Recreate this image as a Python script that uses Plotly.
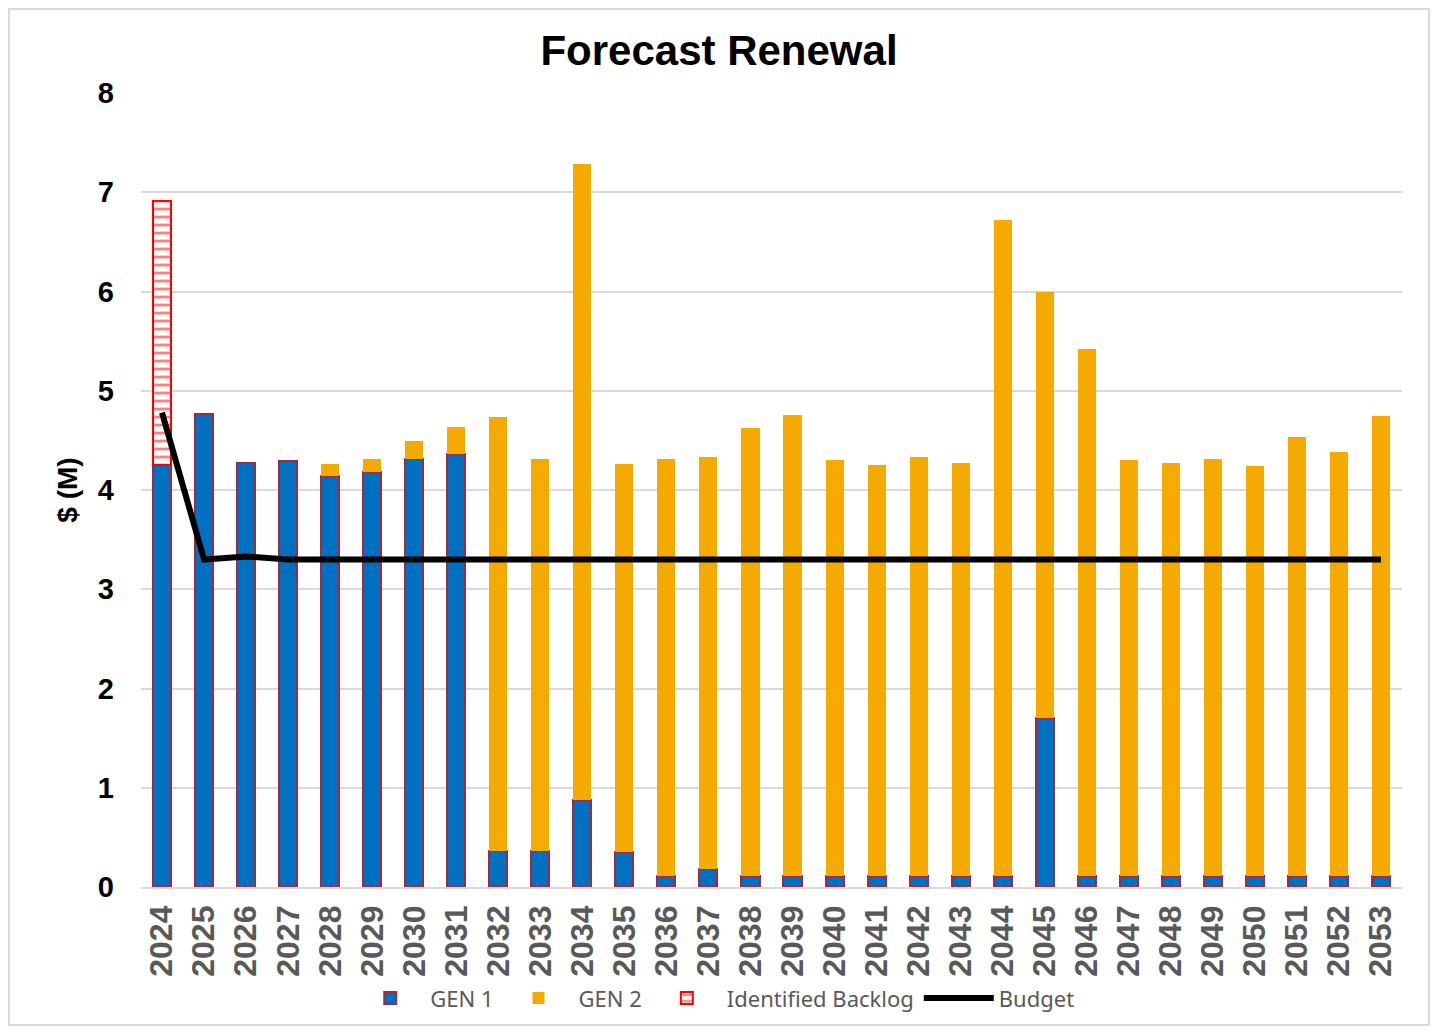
import plotly.graph_objects as go

# Forecast renewal data ($M)
years = [str(y) for y in range(2024, 2054)]

gen1 = [4.25, 4.77, 4.27, 4.29, 4.14, 4.18, 4.31, 4.36, 0.36, 0.36,
        0.88, 0.35, 0.11, 0.18, 0.11, 0.11, 0.11, 0.11, 0.11, 0.11,
        0.11, 1.70, 0.11, 0.11, 0.11, 0.11, 0.11, 0.11, 0.11, 0.11]

gen2 = [None, None, None, None, 0.12, 0.13, 0.18, 0.27, 4.38, 3.95,
        6.40, 3.91, 4.20, 4.15, 4.51, 4.65, 4.19, 4.14, 4.22, 4.16,
        6.61, 4.30, 5.31, 4.19, 4.16, 4.20, 4.13, 4.42, 4.27, 4.64]

backlog = [2.66] + [None] * 29

budget = [4.78, 3.30, 3.33, 3.30, 3.30, 3.30, 3.30, 3.30, 3.30, 3.30,
          3.30, 3.30, 3.30, 3.30, 3.30, 3.30, 3.30, 3.30, 3.30, 3.30,
          3.30, 3.30, 3.30, 3.30, 3.30, 3.30, 3.30, 3.30, 3.30, 3.30]

FONT = 'Liberation Sans, Arial'

fig = go.Figure()

fig.add_trace(go.Bar(
    x=years, y=gen1, name='GEN 1',
    marker=dict(color='#0070C0', line=dict(color='#A5283C', width=2)),
    width=0.43,
))

fig.add_trace(go.Bar(
    x=years, y=gen2, name='GEN 2',
    marker=dict(color='#F4AA00', line=dict(width=0)),
    width=0.43,
))

fig.add_trace(go.Bar(
    x=years, y=backlog, name='Identified Backlog',
    marker=dict(color='white', line=dict(color='#FF0000', width=2),
                pattern=dict(shape='-', fgcolor='#FF0000', bgcolor='white',
                             size=8, solidity=0.35)),
    width=0.43,
))

fig.add_trace(go.Scatter(
    x=years, y=budget, name='Budget', mode='lines',
    line=dict(color='black', width=6),
))

# outer chart border
fig.add_shape(type='rect', xref='paper', yref='paper',
              x0=-0.1047, x1=1.0214, y0=-0.1738, y1=1.1058,
              line=dict(color='#D9D9D9', width=2), layer='below')

fig.update_layout(
    width=1422, height=1018,
    margin=dict(l=133, r=28, t=85, b=139, autoexpand=False),
    barmode='stack',
    plot_bgcolor='white', paper_bgcolor='white',
    title=dict(text='<b>Forecast Renewal</b>', x=0.5, xanchor='center',
               y=0.958, yanchor='middle',
               font=dict(family=FONT, size=42, color='black')),
    yaxis=dict(range=[0, 8], dtick=1, showgrid=True, gridcolor='#D9D9D9', gridwidth=1.5,
               zeroline=False, showline=False, automargin=False,
               tickfont=dict(family=FONT, size=29, color='black'),
               tickprefix='<b>', ticksuffix='</b>', ticklabelstandoff=26,
               title=dict(text='<b>$ (M)</b>', standoff=12,
                          font=dict(family=FONT, size=28, color='black'))),
    xaxis=dict(type='category', tickangle=-90, showgrid=False, automargin=False,
               showline=True, linecolor='#D9D9D9', linewidth=1.5,
               tickfont=dict(family=FONT, size=32, color='#595959'),
               tickprefix='<b>', ticksuffix='</b>', ticklabelstandoff=4),
    legend=dict(orientation='h', x=0.455, xanchor='center', y=-0.14, yanchor='middle',
                font=dict(family='Liberation Sans Narrow, Noto Sans', size=22, color='#595959'),
                traceorder='normal', itemwidth=70),
    showlegend=True,
)

fig.write_html("out.html")
